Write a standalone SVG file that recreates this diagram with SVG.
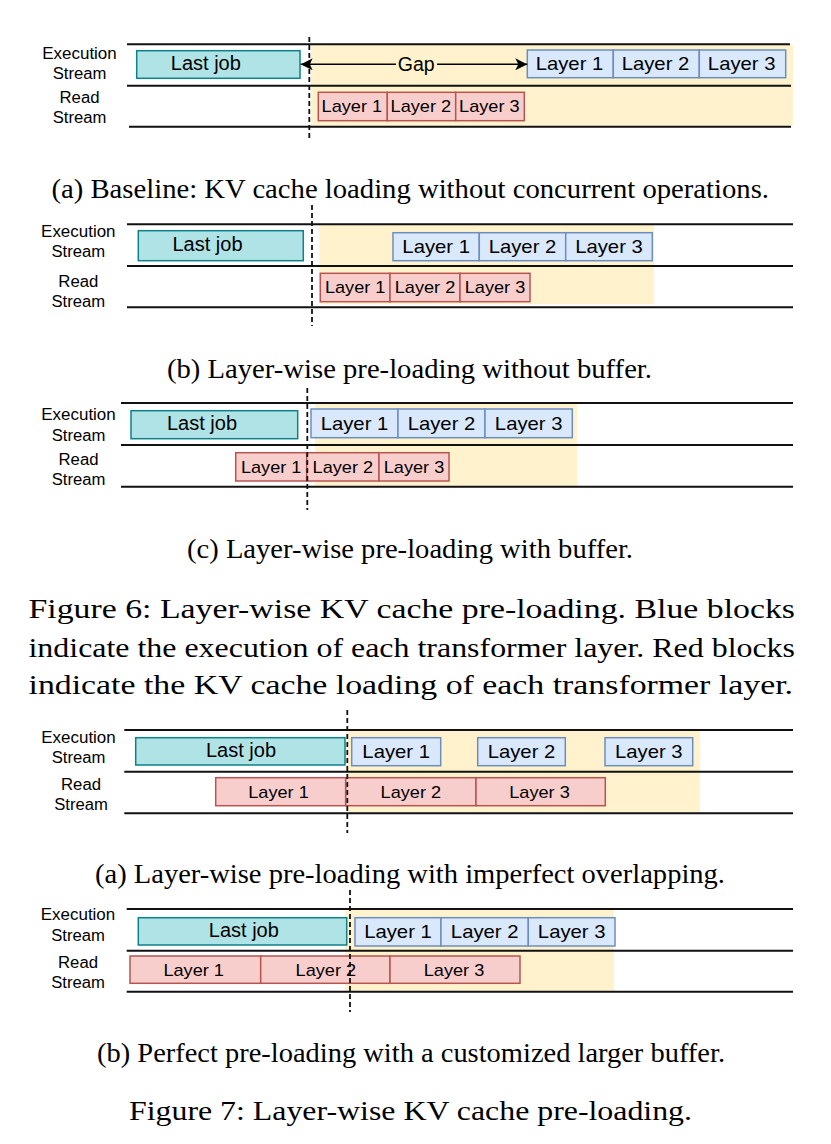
<svg xmlns="http://www.w3.org/2000/svg" width="831" height="1144" viewBox="0 0 831 1144">
<style>
.lane{stroke:#111;stroke-width:2;fill:none}
.bg{fill:#fff2cc}
.job rect{fill:#b0e3e6;stroke:#0e8088;stroke-width:1.5}
.exe rect{fill:#dae8fc;stroke:#6c8ebf;stroke-width:1.5}
.rd rect{fill:#f8cecc;stroke:#b85450;stroke-width:1.5}
text{font-family:"Liberation Sans",Arial,Helvetica,sans-serif;fill:#000;text-anchor:middle}
.lbl{font-size:16px}
.jt{font-size:20px}
.et{font-size:18.5px}
.rt{font-size:17px}
.cap{font-family:"Liberation Serif","Times New Roman",serif;font-size:26.5px;text-anchor:start}
.fig{font-family:"Liberation Serif","Times New Roman",serif;font-size:28px;text-anchor:start}
.dash{stroke:#111;stroke-width:1.8;stroke-dasharray:5 3;fill:none}
.conn{stroke:#000;stroke-width:1.5;fill:none}
</style>
<defs>
<marker id="arr" viewBox="0 0 12 12" refX="12" refY="6" markerWidth="12" markerHeight="12" markerUnits="userSpaceOnUse" orient="auto-start-reverse">
<path d="M0,0 L12,6 L0,12 L3,6 Z" fill="#000"/>
</marker>
</defs>

<!-- Figure 6 (a) -->
<g id="fig6a">
<rect class="bg" x="311" y="45" width="482" height="80.7"/>
<g id="fig6a-lanes">
<line class="lane" x1="127" y1="44.3" x2="790" y2="44.3"/>
<line class="lane" x1="127" y1="85.7" x2="791" y2="85.7"/>
<line class="lane" x1="129" y1="126.7" x2="791" y2="126.7"/>
</g>
<g id="fig6a-labels" class="lbl">
<text x="79.5" y="59" textLength="74.4" lengthAdjust="spacingAndGlyphs">Execution</text>
<text x="79.5" y="79.3" textLength="53.7" lengthAdjust="spacingAndGlyphs">Stream</text>
<text x="79.5" y="103.3" textLength="40" lengthAdjust="spacingAndGlyphs">Read</text>
<text x="79.5" y="123.3" textLength="53.7" lengthAdjust="spacingAndGlyphs">Stream</text>
</g>
<g id="fig6a-lastjob" class="job"><rect x="136.7" y="50.7" width="163.3" height="27.6"/><text class="jt" x="205.8" y="70">Last job</text></g>
<g id="fig6a-exe1" class="exe"><rect x="527.3" y="50" width="86" height="27.7"/><text class="et" x="569.5" y="70.2" textLength="67.7" lengthAdjust="spacingAndGlyphs">Layer 1</text></g>
<g id="fig6a-exe2" class="exe"><rect x="613.3" y="50" width="86" height="27.7"/><text class="et" x="655.5" y="70.2" textLength="67.7" lengthAdjust="spacingAndGlyphs">Layer 2</text></g>
<g id="fig6a-exe3" class="exe"><rect x="699.3" y="50" width="86.4" height="27.7"/><text class="et" x="741.7" y="70.2" textLength="67.7" lengthAdjust="spacingAndGlyphs">Layer 3</text></g>
<g id="fig6a-rd1" class="rd"><rect x="318.3" y="92.3" width="69" height="28.4"/><text class="rt" x="351.8" y="112.3" textLength="60.5" lengthAdjust="spacingAndGlyphs">Layer 1</text></g>
<g id="fig6a-rd2" class="rd"><rect x="387.3" y="92.3" width="68.4" height="28.4"/><text class="rt" x="420.8" y="112.3" textLength="60.5" lengthAdjust="spacingAndGlyphs">Layer 2</text></g>
<g id="fig6a-rd3" class="rd"><rect x="455.7" y="92.3" width="68.6" height="28.4"/><text class="rt" x="489.3" y="112.3" textLength="60.5" lengthAdjust="spacingAndGlyphs">Layer 3</text></g>
<line class="dash" x1="309.3" y1="37" x2="309.3" y2="141"/>
</g>
<g id="connectors">
<path class="conn" d="M300.7,64.3 L527.3,64.3" marker-start="url(#arr)" marker-end="url(#arr)"/>
<rect class="bg" x="396" y="54" width="41" height="20"/>
<text x="416.3" y="70.7" style="font-size:19.5px">Gap</text>
</g>
<text class="cap" x="51.5" y="197.7" textLength="717.5" lengthAdjust="spacingAndGlyphs">(a) Baseline: KV cache loading without concurrent operations.</text>

<!-- Figure 6 (b) -->
<g id="fig6b">
<rect class="bg" x="319.3" y="224" width="334.7" height="80.3"/>
<g id="fig6b-lanes">
<line class="lane" x1="127" y1="224.3" x2="793" y2="224.3"/>
<line class="lane" x1="127" y1="266" x2="793" y2="266"/>
<line class="lane" x1="127" y1="307.3" x2="793" y2="307.3"/>
</g>
<g id="fig6b-labels" class="lbl">
<text x="78.3" y="236.7" textLength="74.4" lengthAdjust="spacingAndGlyphs">Execution</text>
<text x="78.3" y="257.3" textLength="53.7" lengthAdjust="spacingAndGlyphs">Stream</text>
<text x="78.3" y="286.7" textLength="40" lengthAdjust="spacingAndGlyphs">Read</text>
<text x="78.3" y="306.7" textLength="53.7" lengthAdjust="spacingAndGlyphs">Stream</text>
</g>
<g id="fig6b-lastjob" class="job"><rect x="138.3" y="230.7" width="165" height="30"/><text class="jt" x="207.5" y="251.2">Last job</text></g>
<g id="fig6b-exe1" class="exe"><rect x="393" y="232.7" width="86.3" height="28"/><text class="et" x="436.2" y="253" textLength="67.7" lengthAdjust="spacingAndGlyphs">Layer 1</text></g>
<g id="fig6b-exe2" class="exe"><rect x="479.3" y="232.7" width="86.4" height="28"/><text class="et" x="522.5" y="253" textLength="67.7" lengthAdjust="spacingAndGlyphs">Layer 2</text></g>
<g id="fig6b-exe3" class="exe"><rect x="565.7" y="232.7" width="86.6" height="28"/><text class="et" x="609" y="253" textLength="67.7" lengthAdjust="spacingAndGlyphs">Layer 3</text></g>
<g id="fig6b-rd1" class="rd"><rect x="320.3" y="273.3" width="69.7" height="28.4"/><text class="rt" x="355.2" y="293.3" textLength="60.5" lengthAdjust="spacingAndGlyphs">Layer 1</text></g>
<g id="fig6b-rd2" class="rd"><rect x="390" y="273.3" width="70" height="28.4"/><text class="rt" x="425" y="293.3" textLength="60.5" lengthAdjust="spacingAndGlyphs">Layer 2</text></g>
<g id="fig6b-rd3" class="rd"><rect x="460" y="273.3" width="70" height="28.4"/><text class="rt" x="495" y="293.3" textLength="60.5" lengthAdjust="spacingAndGlyphs">Layer 3</text></g>
<line class="dash" x1="312" y1="205" x2="312" y2="326"/>
</g>
<text class="cap" x="167" y="377.5" textLength="485" lengthAdjust="spacingAndGlyphs">(b) Layer-wise pre-loading without buffer.</text>

<!-- Figure 6 (c) -->
<g id="fig6c">
<rect class="bg" x="315" y="402.5" width="262.3" height="83.2"/>
<g id="fig6c-lanes">
<line class="lane" x1="121" y1="403" x2="793" y2="403"/>
<line class="lane" x1="121" y1="445" x2="793" y2="445"/>
<line class="lane" x1="121" y1="486.7" x2="793" y2="486.7"/>
</g>
<g id="fig6c-labels" class="lbl">
<text x="78.5" y="420" textLength="74.4" lengthAdjust="spacingAndGlyphs">Execution</text>
<text x="78.5" y="440.7" textLength="53.7" lengthAdjust="spacingAndGlyphs">Stream</text>
<text x="78.5" y="465" textLength="40" lengthAdjust="spacingAndGlyphs">Read</text>
<text x="78.5" y="485" textLength="53.7" lengthAdjust="spacingAndGlyphs">Stream</text>
</g>
<g id="fig6c-lastjob" class="job"><rect x="131" y="410.7" width="166.7" height="28"/><text class="jt" x="202" y="430.2">Last job</text></g>
<g id="fig6c-exe1" class="exe"><rect x="311" y="409" width="87" height="28.7"/><text class="et" x="354.5" y="429.6" textLength="67.7" lengthAdjust="spacingAndGlyphs">Layer 1</text></g>
<g id="fig6c-exe2" class="exe"><rect x="398" y="409" width="87" height="28.7"/><text class="et" x="441.5" y="429.6" textLength="67.7" lengthAdjust="spacingAndGlyphs">Layer 2</text></g>
<g id="fig6c-exe3" class="exe"><rect x="485" y="409" width="87.3" height="28.7"/><text class="et" x="528.7" y="429.6" textLength="67.7" lengthAdjust="spacingAndGlyphs">Layer 3</text></g>
<g id="fig6c-rd1" class="rd"><rect x="235.7" y="452.7" width="71" height="28.3"/><text class="rt" x="271.2" y="472.6" textLength="60.5" lengthAdjust="spacingAndGlyphs">Layer 1</text></g>
<g id="fig6c-rd2" class="rd"><rect x="306.7" y="452.7" width="72.3" height="28.3"/><text class="rt" x="342.8" y="472.6" textLength="60.5" lengthAdjust="spacingAndGlyphs">Layer 2</text></g>
<g id="fig6c-rd3" class="rd"><rect x="379" y="452.7" width="70" height="28.3"/><text class="rt" x="414" y="472.6" textLength="60.5" lengthAdjust="spacingAndGlyphs">Layer 3</text></g>
<line class="dash" x1="307.3" y1="388" x2="307.3" y2="510"/>
</g>
<text class="cap" x="187" y="557.5" textLength="446" lengthAdjust="spacingAndGlyphs">(c) Layer-wise pre-loading with buffer.</text>

<g id="fig6-caption">
<text class="fig" x="28.5" y="618.3" textLength="766.5" lengthAdjust="spacingAndGlyphs">Figure 6: Layer-wise KV cache pre-loading. Blue blocks</text>
<text class="fig" x="28.5" y="656.7" textLength="766.5" lengthAdjust="spacingAndGlyphs">indicate the execution of each transformer layer. Red blocks</text>
<text class="fig" x="28.5" y="694.3" textLength="764.5" lengthAdjust="spacingAndGlyphs">indicate the KV cache loading of each transformer layer.</text>
</g>

<!-- Figure 7 (a) -->
<g id="fig7a">
<rect class="bg" x="346.7" y="730" width="353.3" height="82.3"/>
<g id="fig7a-lanes">
<line class="lane" x1="124.3" y1="730" x2="793" y2="730"/>
<line class="lane" x1="124.3" y1="771.7" x2="793" y2="771.7"/>
<line class="lane" x1="124.3" y1="813.3" x2="793" y2="813.3"/>
</g>
<g id="fig7a-labels" class="lbl">
<text x="78.5" y="743.3" textLength="74.4" lengthAdjust="spacingAndGlyphs">Execution</text>
<text x="78.5" y="763.3" textLength="53.7" lengthAdjust="spacingAndGlyphs">Stream</text>
<text x="81" y="790" textLength="40" lengthAdjust="spacingAndGlyphs">Read</text>
<text x="81" y="810" textLength="53.7" lengthAdjust="spacingAndGlyphs">Stream</text>
</g>
<g id="fig7a-lastjob" class="job"><rect x="135.7" y="737.7" width="209.3" height="27.3"/><text class="jt" x="241" y="756.8">Last job</text></g>
<g id="fig7a-exe1" class="exe"><rect x="351.7" y="737.7" width="89" height="28"/><text class="et" x="396.2" y="758" textLength="67.7" lengthAdjust="spacingAndGlyphs">Layer 1</text></g>
<g id="fig7a-exe2" class="exe"><rect x="477.7" y="737.7" width="87.6" height="28"/><text class="et" x="521.5" y="758" textLength="67.7" lengthAdjust="spacingAndGlyphs">Layer 2</text></g>
<g id="fig7a-exe3" class="exe"><rect x="605" y="737.7" width="87.7" height="28"/><text class="et" x="648.8" y="758" textLength="67.7" lengthAdjust="spacingAndGlyphs">Layer 3</text></g>
<g id="fig7a-rd1" class="rd"><rect x="215.7" y="777.7" width="130" height="28"/><text class="rt" x="278.5" y="797.5" textLength="60.5" lengthAdjust="spacingAndGlyphs">Layer 1</text></g>
<g id="fig7a-rd2" class="rd"><rect x="345.7" y="777.7" width="130.3" height="28"/><text class="rt" x="410.8" y="797.5" textLength="60.5" lengthAdjust="spacingAndGlyphs">Layer 2</text></g>
<g id="fig7a-rd3" class="rd"><rect x="476" y="777.7" width="129.3" height="28"/><text class="rt" x="539.5" y="797.5" textLength="60.5" lengthAdjust="spacingAndGlyphs">Layer 3</text></g>
<line class="dash" x1="347.3" y1="710" x2="347.3" y2="833"/>
</g>
<text class="cap" x="95" y="882.5" textLength="630" lengthAdjust="spacingAndGlyphs">(a) Layer-wise pre-loading with imperfect overlapping.</text>

<!-- Figure 7 (b) -->
<g id="fig7b">
<rect class="bg" x="345" y="909" width="269" height="81.7"/>
<g id="fig7b-lanes">
<line class="lane" x1="126.7" y1="909" x2="793" y2="909"/>
<line class="lane" x1="126.7" y1="950.7" x2="793" y2="950.7"/>
<line class="lane" x1="126.7" y1="991.7" x2="793" y2="991.7"/>
</g>
<g id="fig7b-labels" class="lbl">
<text x="78" y="920" textLength="74.4" lengthAdjust="spacingAndGlyphs">Execution</text>
<text x="78" y="940.7" textLength="53.7" lengthAdjust="spacingAndGlyphs">Stream</text>
<text x="78" y="968.3" textLength="40" lengthAdjust="spacingAndGlyphs">Read</text>
<text x="78" y="988.3" textLength="53.7" lengthAdjust="spacingAndGlyphs">Stream</text>
</g>
<g id="fig7b-lastjob" class="job"><rect x="138.3" y="917.7" width="208.4" height="27.3"/><text class="jt" x="243.8" y="936.8">Last job</text></g>
<g id="fig7b-exe1" class="exe"><rect x="355" y="917.7" width="86" height="28.3"/><text class="et" x="398" y="938.1" textLength="67.7" lengthAdjust="spacingAndGlyphs">Layer 1</text></g>
<g id="fig7b-exe2" class="exe"><rect x="441" y="917.7" width="87.3" height="28.3"/><text class="et" x="484.7" y="938.1" textLength="67.7" lengthAdjust="spacingAndGlyphs">Layer 2</text></g>
<g id="fig7b-exe3" class="exe"><rect x="528.3" y="917.7" width="86.7" height="28.3"/><text class="et" x="571.7" y="938.1" textLength="67.7" lengthAdjust="spacingAndGlyphs">Layer 3</text></g>
<g id="fig7b-rd1" class="rd"><rect x="130" y="956" width="130.7" height="27.3"/><text class="rt" x="193.7" y="975.5" textLength="60.5" lengthAdjust="spacingAndGlyphs">Layer 1</text></g>
<g id="fig7b-rd2" class="rd"><rect x="260.7" y="956" width="129.3" height="27.3"/><text class="rt" x="325.8" y="975.5" textLength="60.5" lengthAdjust="spacingAndGlyphs">Layer 2</text></g>
<g id="fig7b-rd3" class="rd"><rect x="390" y="956" width="130" height="27.3"/><text class="rt" x="454" y="975.5" textLength="60.5" lengthAdjust="spacingAndGlyphs">Layer 3</text></g>
<line class="dash" x1="350" y1="890" x2="350" y2="1012"/>
</g>
<text class="cap" x="97" y="1061.5" textLength="628" lengthAdjust="spacingAndGlyphs">(b) Perfect pre-loading with a customized larger buffer.</text>
<text class="fig" x="129" y="1119.5" textLength="563" lengthAdjust="spacingAndGlyphs">Figure 7: Layer-wise KV cache pre-loading.</text>
</svg>
